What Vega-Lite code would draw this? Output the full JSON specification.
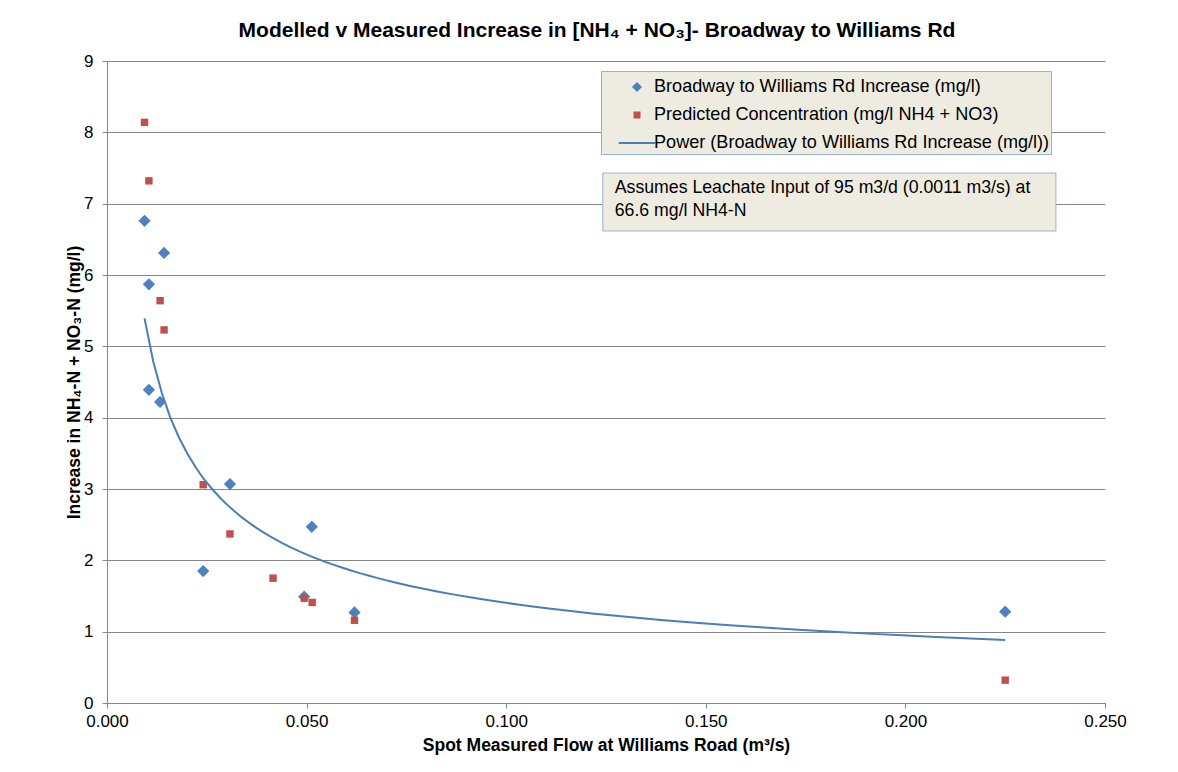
{
  "$schema": "https://vega.github.io/schema/vega-lite/v6.json",
  "autosize": "none",
  "width": 998,
  "height": 642,
  "padding": {"left": 107, "top": 61, "right": 73, "bottom": 69},
  "background": "white",
  "title": {
    "text": "Modelled v Measured Increase in [NH₄ + NO₃]- Broadway to Williams Rd",
    "font": "Liberation Sans",
    "fontSize": 21,
    "fontWeight": "bold",
    "color": "black",
    "offset": 11,
    "dx": -9
  },
  "config": {
    "view": {"stroke": null},
    "axis": {
      "domainColor": "#868686",
      "gridColor": "#868686",
      "tickColor": "#868686",
      "tickSize": 5,
      "labelFont": "Liberation Sans",
      "labelFontSize": 17,
      "labelColor": "black",
      "titleFont": "Liberation Sans",
      "titleFontSize": 17.5,
      "titleFontWeight": "bold",
      "titleColor": "black"
    }
  },
  "data": {
    "values": [
      {"series": "Broadway to Williams Rd Increase (mg/l)", "flow": 0.0094, "conc": 6.76},
      {"series": "Broadway to Williams Rd Increase (mg/l)", "flow": 0.0105, "conc": 5.87},
      {"series": "Broadway to Williams Rd Increase (mg/l)", "flow": 0.0105, "conc": 4.39},
      {"series": "Broadway to Williams Rd Increase (mg/l)", "flow": 0.0133, "conc": 4.22},
      {"series": "Broadway to Williams Rd Increase (mg/l)", "flow": 0.0143, "conc": 6.31},
      {"series": "Broadway to Williams Rd Increase (mg/l)", "flow": 0.0241, "conc": 1.85},
      {"series": "Broadway to Williams Rd Increase (mg/l)", "flow": 0.0308, "conc": 3.07},
      {"series": "Broadway to Williams Rd Increase (mg/l)", "flow": 0.0494, "conc": 1.49},
      {"series": "Broadway to Williams Rd Increase (mg/l)", "flow": 0.0513, "conc": 2.47},
      {"series": "Broadway to Williams Rd Increase (mg/l)", "flow": 0.0620, "conc": 1.27},
      {"series": "Broadway to Williams Rd Increase (mg/l)", "flow": 0.2250, "conc": 1.28},
      {"series": "Predicted Concentration (mg/l NH4 + NO3)", "flow": 0.0094, "conc": 8.14},
      {"series": "Predicted Concentration (mg/l NH4 + NO3)", "flow": 0.0105, "conc": 7.32},
      {"series": "Predicted Concentration (mg/l NH4 + NO3)", "flow": 0.0133, "conc": 5.64},
      {"series": "Predicted Concentration (mg/l NH4 + NO3)", "flow": 0.0143, "conc": 5.23},
      {"series": "Predicted Concentration (mg/l NH4 + NO3)", "flow": 0.0241, "conc": 3.06},
      {"series": "Predicted Concentration (mg/l NH4 + NO3)", "flow": 0.0308, "conc": 2.37},
      {"series": "Predicted Concentration (mg/l NH4 + NO3)", "flow": 0.0416, "conc": 1.75},
      {"series": "Predicted Concentration (mg/l NH4 + NO3)", "flow": 0.0494, "conc": 1.47},
      {"series": "Predicted Concentration (mg/l NH4 + NO3)", "flow": 0.0514, "conc": 1.41},
      {"series": "Predicted Concentration (mg/l NH4 + NO3)", "flow": 0.0620, "conc": 1.16},
      {"series": "Predicted Concentration (mg/l NH4 + NO3)", "flow": 0.2250, "conc": 0.32}
    ]
  },
  "layer": [
    {
      "data": {"values": [{}]},
      "mark": {"type": "rect", "fill": "#EEECE1", "stroke": "#95B3D7", "strokeWidth": 1},
      "encoding": {
        "x": {"datum": 0.1242, "type": "quantitative", "scale": {"domain": [0, 0.25], "nice": false}},
        "x2": {"datum": 0.2377},
        "y": {"datum": 7.43, "type": "quantitative", "scale": {"domain": [0, 9], "nice": false}},
        "y2": {"datum": 6.617}
      }
    },
    {
      "data": {"values": [{}]},
      "mark": {
        "type": "text",
        "text": ["Assumes Leachate Input of 95 m3/d (0.0011 m3/s) at", "66.6 mg/l NH4-N"],
        "align": "left",
        "baseline": "top",
        "lineHeight": 23,
        "font": "Liberation Sans",
        "fontSize": 17.7,
        "color": "black"
      },
      "encoding": {
        "x": {"datum": 0.1272, "type": "quantitative"},
        "y": {"datum": 7.345, "type": "quantitative"}
      }
    },
    {
      "mark": {"type": "point", "filled": true, "opacity": 1},
      "encoding": {
        "x": {
          "field": "flow",
          "type": "quantitative",
          "scale": {"domain": [0, 0.25], "nice": false},
          "axis": {
            "title": "Spot Measured Flow at Williams Road (m³/s)",
            "values": [0, 0.05, 0.1, 0.15, 0.2, 0.25],
            "format": ".3f",
            "grid": false,
            "labelFlush": false,
            "labelPadding": 5,
            "titleY": 42,
            "titleBaseline": "middle"
          }
        },
        "y": {
          "field": "conc",
          "type": "quantitative",
          "scale": {"domain": [0, 9], "nice": false},
          "axis": {
            "title": "Increase in NH₄-N + NO₃-N (mg/l)",
            "values": [0, 1, 2, 3, 4, 5, 6, 7, 8, 9],
            "format": "d",
            "grid": true,
            "labelPadding": 9,
            "titleX": -33,
            "titleY": 321,
            "titleBaseline": "middle"
          }
        },
        "color": {
          "field": "series",
          "type": "nominal",
          "scale": {
            "domain": [
              "Broadway to Williams Rd Increase (mg/l)",
              "Predicted Concentration (mg/l NH4 + NO3)",
              "Power (Broadway to Williams Rd Increase (mg/l))"
            ],
            "range": ["#4F81BD", "#C0504D", "#4A7EBB"]
          },
          "legend": {
            "title": null,
            "orient": "none",
            "legendX": 494,
            "legendY": 10,
            "fillColor": "#EEECE1",
            "strokeColor": "#95B3D7",
            "padding": 1,
            "labelFont": "Liberation Sans",
            "labelFontSize": 18.1,
            "labelColor": "black",
            "labelLimit": 600,
            "symbolSize": 784,
            "symbolOffset": 20,
            "labelOffset": 2,
            "rowPadding": 3,
            "symbolType": {"expr": "indexof(datum.value,'Power')===0 ? 'M-1.3,-0.07H1.3V0.07H-1.3Z' : (indexof(datum.value,'Predicted')===0 ? 'M-0.25,-0.25H0.25V0.25H-0.25Z' : 'M0,-0.36L0.36,0L0,0.36L-0.36,0Z')"}
          }
        },
        "shape": {
          "condition": {"test": "datum.series === 'Predicted Concentration (mg/l NH4 + NO3)'", "value": "square"},
          "value": "diamond"
        },
        "size": {
          "condition": {"test": "datum.series === 'Predicted Concentration (mg/l NH4 + NO3)'", "value": 55},
          "value": 150
        }
      }
    },
    {
      "transform": [
        {"filter": "datum.series === 'Broadway to Williams Rd Increase (mg/l)'"},
        {"regression": "conc", "on": "flow", "method": "pow"}
      ],
      "mark": {"type": "line", "color": "#4A7EBB", "strokeWidth": 2},
      "encoding": {
        "x": {"field": "flow", "type": "quantitative"},
        "y": {"field": "conc", "type": "quantitative"}
      }
    }
  ]
}
